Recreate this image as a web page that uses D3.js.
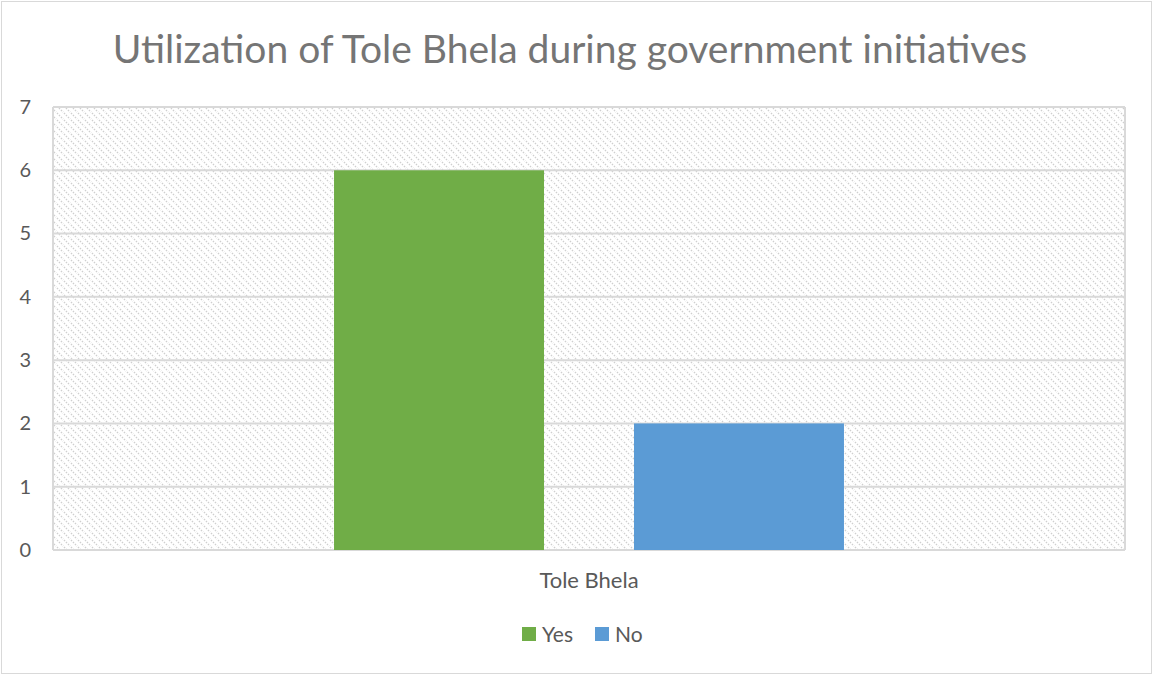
<!DOCTYPE html>
<html>
<head>
<meta charset="utf-8">
<script src="https://cdn.jsdelivr.net/npm/d3@7"></script>
<style>
  html, body { margin: 0; padding: 0; background: #fff; }
  svg { display: block; font-family: Lato, "Open Sans", sans-serif; }
</style>
</head>
<body>
<svg id="chart" width="1153" height="675"></svg>
<script>
// Chart data
const categories = ["Tole Bhela"];
const seriesNames = ["Yes", "No"];
const seriesValues = { "Yes": [6], "No": [2] };
const seriesColors = ["#70AD47", "#5B9BD5"];
const yTicks = [0, 1, 2, 3, 4, 5, 6, 7];
const titleText = "Utilization of Tole Bhela during government initiatives";

const W = 1153, H = 675;
const plot = { left: 53, right: 1125, top: 107, bottom: 550 };
const labelFont = "Lato, 'Open Sans', sans-serif";

const svg = d3.select("#chart");

// Outer chart border
svg.append("rect")
  .attr("x", 1.5).attr("y", 1.5)
  .attr("width", W - 3).attr("height", H - 3)
  .attr("fill", "#fff").attr("stroke", "#d9d9d9").attr("stroke-width", 1);

// Diagonal dotted hatch for the plot background
const defs = svg.append("defs");
const P = 7;
const pat = defs.append("pattern")
  .attr("id", "hatch")
  .attr("patternUnits", "userSpaceOnUse")
  .attr("width", P).attr("height", P);
pat.append("rect").attr("width", P).attr("height", P).attr("fill", "#fff");
pat.append("path")
  .attr("d", `M-1,-1 L${P + 1},${P + 1} M-1,${P - 1} L1,${P + 1} M${P - 1},-1 L${P + 1},1`)
  .attr("stroke", "#cfcfcf").attr("stroke-width", 1.3)
  .attr("stroke-dasharray", "1.5,1.3");

const y = d3.scaleLinear().domain([0, 7]).range([plot.bottom, plot.top]);
const x0 = d3.scaleBand().domain(categories)
  .range([plot.left, plot.right]).padding(0.3553);
const x1 = d3.scaleBand().domain(seriesNames)
  .range([0, x0.bandwidth()]).paddingInner(0.3).paddingOuter(0);
const color = d3.scaleOrdinal().domain(seriesNames).range(seriesColors);

// Plot area fill
svg.append("rect")
  .attr("x", plot.left).attr("y", plot.top)
  .attr("width", plot.right - plot.left).attr("height", plot.bottom - plot.top)
  .attr("fill", "url(#hatch)");

// Gridlines
svg.append("g").selectAll("line").data(yTicks).join("line")
  .attr("x1", plot.left).attr("x2", plot.right)
  .attr("y1", d => y(d)).attr("y2", d => y(d))
  .attr("stroke", "#d9d9d9").attr("stroke-width", 2);

// Plot edges
[plot.left, plot.right].forEach(xv => {
  svg.append("line")
    .attr("x1", xv).attr("x2", xv)
    .attr("y1", plot.top).attr("y2", plot.bottom)
    .attr("stroke", "#d9d9d9").attr("stroke-width", 2);
});

// Bars
const groups = svg.append("g").selectAll("g").data(categories).join("g")
  .attr("transform", d => `translate(${x0(d)},0)`);
groups.selectAll("rect")
  .data((d, i) => seriesNames.map(s => ({ key: s, value: seriesValues[s][i] })))
  .join("rect")
  .attr("x", d => x1(d.key))
  .attr("width", x1.bandwidth())
  .attr("y", d => y(d.value))
  .attr("height", d => y(0) - y(d.value))
  .attr("fill", d => color(d.key));

// Y axis labels
const yAxis = d3.axisLeft(y).tickValues(yTicks).tickSize(0).tickPadding(0)
  .tickFormat(d3.format("d"));
const yg = svg.append("g").attr("transform", "translate(31,0)").call(yAxis);
yg.select(".domain").remove();
yg.selectAll("text")
  .attr("font-family", labelFont)
  .attr("font-size", 20).attr("fill", "#595959");

// X axis label
const xAxis = d3.axisBottom(x0).tickSize(0).tickPadding(0);
const xg = svg.append("g").attr("transform", `translate(0,${plot.bottom + 22})`).call(xAxis);
xg.select(".domain").remove();
xg.selectAll("text")
  .attr("font-family", labelFont)
  .attr("font-size", 22).attr("fill", "#595959");

// Title
svg.append("text")
  .attr("x", 570).attr("y", 63)
  .attr("text-anchor", "middle")
  .attr("font-size", 39).attr("fill", "#757575")
  .text(titleText);

// Legend
const legendX = [522, 595];
const lg = svg.append("g").selectAll("g").data(seriesNames).join("g")
  .attr("transform", (d, i) => `translate(${legendX[i]},627)`);
lg.append("rect").attr("width", 14).attr("height", 14)
  .attr("fill", d => color(d));
lg.append("text").attr("x", 20).attr("y", 15)
  .attr("font-size", 21).attr("fill", "#595959")
  .text(d => d);
</script>
</body>
</html>
